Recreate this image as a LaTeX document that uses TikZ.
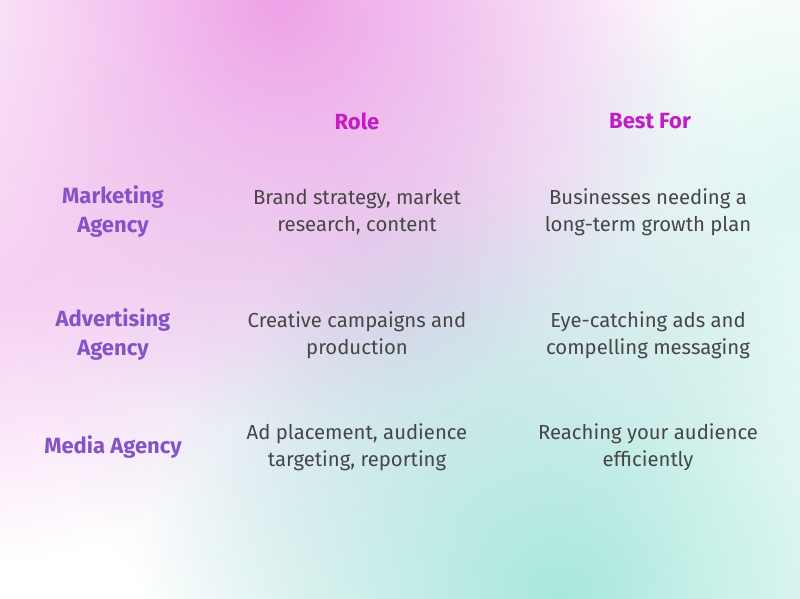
\documentclass[tikz,border=0pt]{standalone}
\usepackage{fontspec}
\setmainfont{Fira Sans}
\usetikzlibrary{positioning,fadings}
\definecolor{headpink}{HTML}{C31CC4}
\definecolor{rowpurple}{HTML}{8553C6}
\definecolor{bodygray}{HTML}{464646}
\definecolor{blobpink}{HTML}{EEA2E8}
\definecolor{blobmint}{HTML}{A8E8DC}
\definecolor{bloblav}{HTML}{E2DDF0}
\tikzfading[name=blobfade, inner color=transparent!0, outer color=transparent!100]
\tikzset{
  head/.style={font=\fontsize{22}{26}\selectfont\bfseries, text=headpink},
  rowlabel/.style={font=\fontsize{22}{29}\selectfont\bfseries, text=rowpurple, align=center},
  cell/.style={font=\fontsize{20.3}{27}\selectfont, text=bodygray, align=center}
}
\begin{document}
\begin{tikzpicture}[x=1pt,y=-1pt]
% Background
\fill[white] (0,0) rectangle (800,599);
\useasboundingbox (0,0) rectangle (800,599);
\begin{scope}
\clip (0,0) rectangle (800,599);
\fill[bloblav, path fading=blobfade] (400,300) circle (380);
\fill[blobpink, path fading=blobfade] (280,0) circle (420);
\fill[blobpink, opacity=0.5, path fading=blobfade] (0,300) circle (260);
\fill[blobmint, path fading=blobfade] (560,600) circle (420);
\fill[blobmint, opacity=0.4, path fading=blobfade] (800,200) circle (260);
\end{scope}

% Headers
\node[head] (role) at (357,121) {Role};
\node[head] (best) at (650,121) {Best For};

% Row labels
\node[rowlabel] (r1) at (113,212) {Marketing\\Agency};
\node[rowlabel] (r2) at (113,335) {Advertising\\Agency};
\node[rowlabel] (r3) at (113,447) {Media Agency};

% Cells
\node[cell] (c1) at (357,212) {Brand strategy, market\\research, content};
\node[cell] (d1) at (648,212) {Businesses needing a\\long-term growth plan};
\node[cell] (c2) at (357,335) {Creative campaigns and\\production};
\node[cell] (d2) at (648,335) {Eye-catching ads and\\compelling messaging};
\node[cell] (c3) at (357,447) {Ad placement, audience\\targeting, reporting};
\node[cell] (d3) at (648,447) {Reaching your audience\\efficiently};
\end{tikzpicture}
\end{document}
